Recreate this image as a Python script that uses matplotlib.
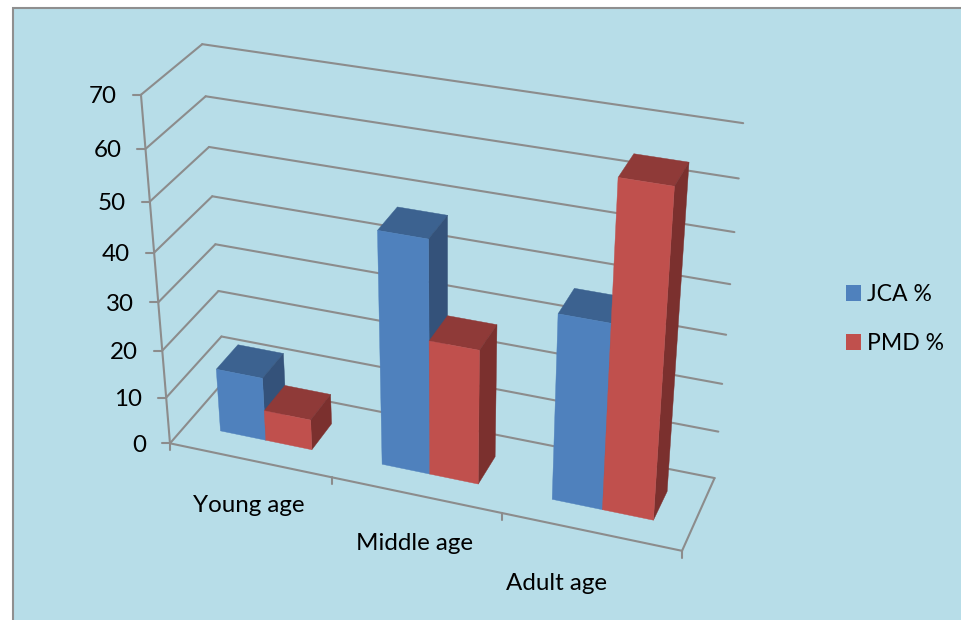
import matplotlib
matplotlib.use("Agg")
import matplotlib.pyplot as plt
from matplotlib.patches import Patch, Polygon, Rectangle
import numpy as np

categories = ["Young age", "Middle age", "Adult age"]
series_names = ["JCA %", "PMD %"]
jca = [13.5, 48, 38]
pmd = [6.5, 28, 65]
value_ticks = [0, 10, 20, 30, 40, 50, 60, 70]

W, H = 961, 620
BG = "#B7DDE8"
LINE = "#8C8C8C"
# front, top, side colours per series
COLORS = [("#4F81BD", "#3C6290", "#34527A"), ("#C0504D", "#8F3A38", "#7B302E")]

# box corners (category, value, depth) and where they land on the canvas
corners = [
    ((0, 0, 0), (170, 442)), ((0, 70, 0), (141, 95)),
    ((3, 0, 0), (682, 552)), ((3, 0, 1), (713, 478)),
    ((3, 70, 1), (743, 124)), ((0, 70, 1), (202, 44)),
    ((0, 0, 1), (225, 383)), ((0, 20, 1), (218, 290)),
    ((3, 20, 1), (724, 382)),
]
A = []
for (u, v, d), (px, py) in corners:
    A.append([u, v, d, 1, 0, 0, 0, 0, -px * u, -px * v, -px * d, -px])
    A.append([0, 0, 0, 0, u, v, d, 1, -py * u, -py * v, -py * d, -py])
camera = np.linalg.svd(np.array(A, dtype=float))[2][-1].reshape(3, 4)


def proj(u, v, d):
    x, y, w = camera @ np.array([u, v, d, 1.0])
    return x / w, y / w


plt.rcParams["font.family"] = ["Lato", "DejaVu Sans"]
FS = 17.4

fig = plt.figure(figsize=(W / 100, H / 100), dpi=100, facecolor="white")
ax = fig.add_axes([0, 0, 1, 1])
ax.set_xlim(0, W)
ax.set_ylim(H, 0)
ax.axis("off")

ax.add_patch(Rectangle((12.5, 8), W, H, fc=BG, ec="#8F8F8F", lw=1.5, zorder=0))


def seg(p, q):
    ax.plot([p[0], q[0]], [p[1], q[1]], color=LINE, lw=1.5, solid_capstyle="round", zorder=1)


# walls and floor
for t in value_ticks:
    seg(proj(0, t, 0), proj(0, t, 1))
    if t:
        seg(proj(0, t, 1), proj(3, t, 1))
    a = proj(0, t, 0)
    seg((a[0] - 8, a[1]), a)
    ax.text(a[0] - 24, a[1] + 2, str(t), ha="right", va="center", fontsize=FS, color="black")
seg(proj(0, 0, 0), proj(0, 70, 0))
seg(proj(0, 0, 0), proj(3, 0, 0))
seg(proj(3, 0, 0), proj(3, 0, 1))
seg(proj(3, 0, 1), proj(0, 0, 1))
for i in range(4):
    a = proj(i, 0, 0)
    seg(a, (a[0], a[1] + 7))


def box(u0, u1, d0, d1, value, cols):
    front, top, side = cols
    faces = [
        (top, [(u0, value, d0), (u1, value, d0), (u1, value, d1), (u0, value, d1)]),
        (side, [(u1, 0, d0), (u1, value, d0), (u1, value, d1), (u1, 0, d1)]),
        (front, [(u0, 0, d0), (u1, 0, d0), (u1, value, d0), (u0, value, d0)]),
    ]
    for c, pts in faces:
        ax.add_patch(Polygon([proj(*p) for p in pts], closed=True, fc=c, ec=c, lw=0.3, zorder=2))


# gap width and gap depth are both 150 %
bw = 1 / 3.5
for i in range(len(categories)):
    for s, vals in enumerate([jca, pmd]):
        u0 = i + 0.75 * bw + s * bw
        box(u0, u0 + bw, 0.3, 0.7, vals[i], COLORS[s])

label_pos = [(249, 506), (415, 543), (556, 584)]
for name, (lx, ly) in zip(categories, label_pos):
    ax.text(lx, ly, name, ha="center", va="center", fontsize=FS, color="black")

handles = [Patch(fc=COLORS[i][0], ec="none", label=series_names[i]) for i in range(2)]
leg = ax.legend(handles=handles, loc="upper left", bbox_to_anchor=(846 / W, 1 - 284 / H),
                bbox_transform=fig.transFigure, frameon=False, fontsize=16.6, handlelength=0.65,
                handleheight=0.65, handletextpad=0.28, labelspacing=1.22, borderpad=0, borderaxespad=0)

fig.savefig("out.png", dpi=100, facecolor="white")
